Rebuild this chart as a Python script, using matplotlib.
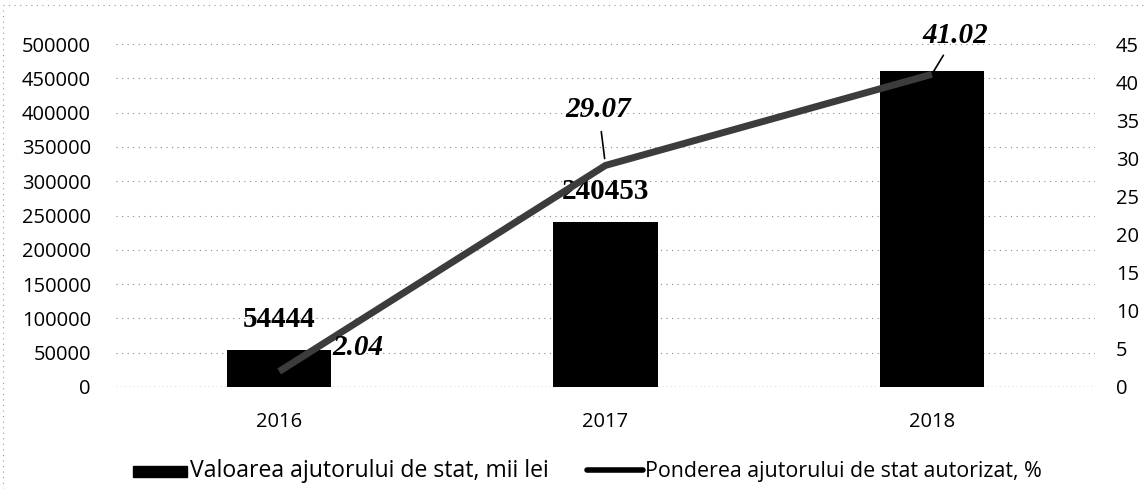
import matplotlib
matplotlib.use("Agg")
import matplotlib.pyplot as plt
from matplotlib.patches import Rectangle
from matplotlib.lines import Line2D
import numpy as np

years = ["2016", "2017", "2018"]
values = [54444, 240453, 460000]
shares = [2.04, 29.07, 41.02]
bar_labels = ["54444", "240453", ""]
share_labels = ["2.04", "29.07", "41.02"]
left_ticks = [0, 50000, 100000, 150000, 200000, 250000, 300000, 350000, 400000, 450000, 500000]
right_ticks = [0, 5, 10, 15, 20, 25, 30, 35, 40, 45]
legend_labels = ["Valoarea ajutorului de stat, mii lei", "Ponderea ajutorului de stat autorizat, %"]

W, H = 1147, 503
fig = plt.figure(figsize=(W / 100, H / 100), dpi=100)
ax = fig.add_axes([116 / W, (H - 387) / H, (1095 - 116) / W, (387 - 44) / H])
ax2 = ax.twinx()

FONT = "Open Sans"
tickfont = dict(family=FONT, size=14.5)
x = np.arange(len(years))
ax.bar(x, values, width=0.32, color="black", zorder=2)
ax.set_xlim(-0.5, 2.5)
ax.set_ylim(0, 500000)
ax.set_yticks(left_ticks)
ax.set_yticklabels([str(t) for t in left_ticks], **tickfont)
ax.set_xticks(x)
ax.set_xticklabels(years, **tickfont)
ax.tick_params(axis="y", length=0, pad=18)
ax.tick_params(axis="x", length=0, pad=18)
for t in left_ticks[1:]:
    ax.axhline(t, color="#888888", lw=0.8, ls=(0, (1, 4)), zorder=0)
ax.axhline(0, color="#777777", lw=1.0, ls=(0, (1, 2)), zorder=1)
for s in ax.spines.values():
    s.set_visible(False)
for s in ax2.spines.values():
    s.set_visible(False)

ax2.plot(x, shares, color="#3c3c3c", lw=5, solid_capstyle="butt", zorder=3)
ax2.set_ylim(0, 45)
ax2.set_yticks(right_ticks)
ax2.set_yticklabels([str(t) for t in right_ticks], **tickfont)
ax2.tick_params(axis="y", length=0, pad=15)

lblfont = dict(family="Liberation Serif", weight="bold", size=21)
for xi, v, lab in zip(x, values, bar_labels):
    if lab:
        ax.annotate(lab, (xi, v), xytext=(0, 22), textcoords="offset points",
                    ha="center", va="center", zorder=5, **lblfont)

ifont = dict(family="Liberation Serif", weight="bold", style="italic", size=21)
ax2.annotate(share_labels[0], (x[0], shares[0]), xytext=(38, 17), textcoords="offset points",
             ha="left", va="center", zorder=5, **ifont)
ax2.annotate(share_labels[1], (x[1], shares[1]), xytext=(-5, 40), textcoords="offset points",
             ha="center", va="center", zorder=5,
             arrowprops=dict(arrowstyle="-", color="black", lw=1.2, shrinkA=4, shrinkB=5), **ifont)
ax2.annotate(share_labels[2], (x[2], shares[2]), xytext=(17, 28), textcoords="offset points",
             ha="center", va="center", zorder=5,
             arrowprops=dict(arrowstyle="-", color="black", lw=1.2, shrinkA=3, shrinkB=2), **ifont)

# legend drawn in a pixel-coordinate overlay
ov = fig.add_axes([0, 0, 1, 1], zorder=10)
ov.set_xlim(0, W)
ov.set_ylim(H, 0)
ov.axis("off")
ov.patch.set_alpha(0)
ly = 471
ov.add_patch(Rectangle((133, ly - 5.5), 54, 11, color="black"))
t1 = ov.text(190, ly, legend_labels[0], family=FONT, size=14, va="center", ha="left")
ov.add_line(Line2D([587, 643], [ly - 1, ly - 1], color="black", lw=4, solid_capstyle="round"))
t2 = ov.text(645, ly, legend_labels[1], family=FONT, size=14, va="center", ha="left")

# fit legend text widths to the reference
fig.canvas.draw()
r = fig.canvas.get_renderer()
for t, target in ((t1, 359), (t2, 398)):
    w = t.get_window_extent(r).width
    t.set_fontsize(14 * target / w)

# scanned frame remnants
ov.add_line(Line2D([3, W - 3], [5, 5], color="#999999", lw=0.8, ls=(0, (1, 4))))
ov.add_line(Line2D([3, 3], [10, H - 15], color="#999999", lw=0.8, ls=(0, (1, 4))))

fig.savefig("out.png", dpi=100)
